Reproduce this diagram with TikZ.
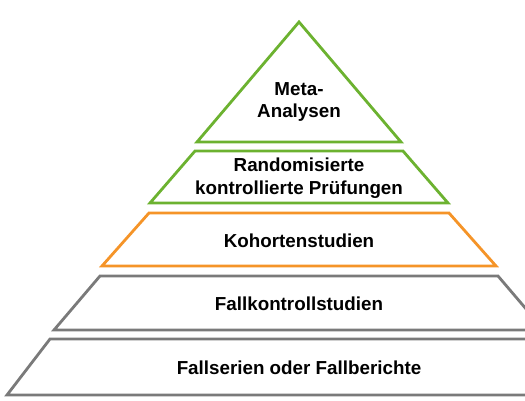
\documentclass[tikz,border=0pt]{standalone}
\usepackage{fontspec}
\setmainfont{Liberation Sans}
\definecolor{tiergreen}{RGB}{108, 178, 48}
\definecolor{tierorange}{RGB}{245, 148, 40}
\definecolor{tiergray}{RGB}{122, 122, 122}
\tikzset{
    tier/.style={
        line width=2.8pt,
        fill=white
    },
    tierlabel/.style={
        font=\fontsize{18.8}{22.5}\selectfont\bfseries,
        align=center,
        text=black
    },
}

\begin{document}
\begin{tikzpicture}[x=1pt, y=-1pt]
    \useasboundingbox (0,0) rectangle (525,401);
    % levels of the pyramid, top to bottom
    \draw[tier, draw=tiergreen] (299,22) -- (401,142) -- (197,142) -- cycle;
    \draw[tier, draw=tiergreen] (195,151) -- (403,151) -- (448,203) -- (150,203) -- cycle;
    \draw[tier, draw=tierorange] (149,213) -- (449,213) -- (496,266) -- (102,266) -- cycle;
    \draw[tier, draw=tiergray] (100,276) -- (498,276) -- (544,330) -- (54,330) -- cycle;
    \draw[tier, draw=tiergray] (50,339) -- (548,339) -- (591,395) -- (7,395) -- cycle;

    \node[tierlabel] (meta) at (299,102) {Meta-\\Analysen};
    \node[tierlabel] (rct) at (299,178) {Randomisierte\\kontrollierte Prüfungen};
    \node[tierlabel, anchor=base] (cohort) at (299,247) {Kohortenstudien};
    \node[tierlabel, anchor=base] (casectrl) at (299,310) {Fallkontrollstudien};
    \node[tierlabel, anchor=base] (caseser) at (299,374) {Fallserien oder Fallberichte};
\end{tikzpicture}
\end{document}
